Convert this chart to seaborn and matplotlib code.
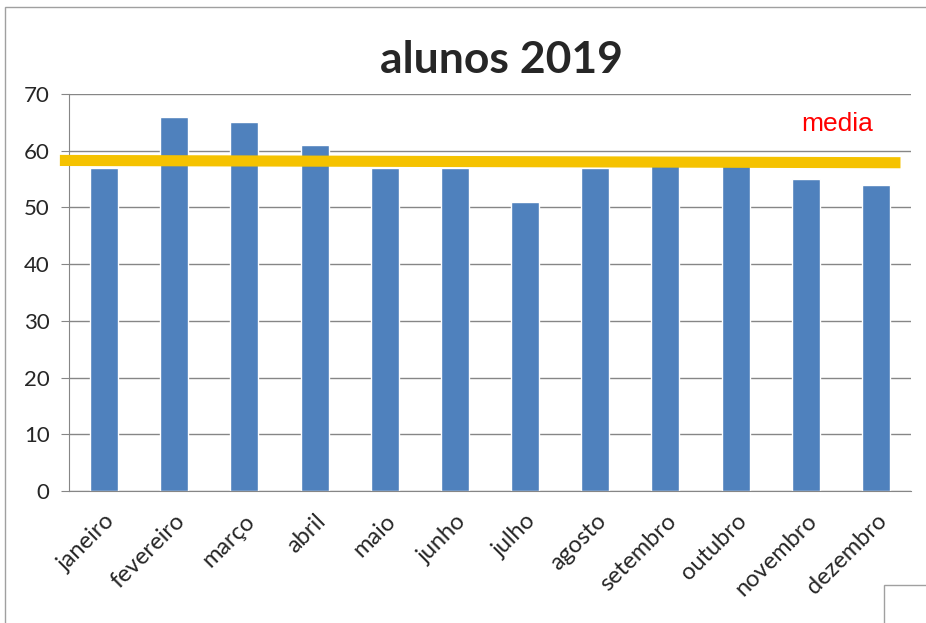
import matplotlib
matplotlib.use("Agg")
import matplotlib.pyplot as plt
import seaborn as sns
import pandas as pd

meses = ["janeiro", "fevereiro", "março", "abril", "maio", "junho",
         "julho", "agosto", "setembro", "outubro", "novembro", "dezembro"]
alunos = [57, 66, 65, 61, 57, 57, 51, 57, 59, 58, 55, 54]
media = sum(alunos) / len(alunos)

df = pd.DataFrame({"mes": meses, "alunos": alunos})

sns.set_style("white")
plt.rcParams["font.family"] = ["Lato", "DejaVu Sans"]

fig = plt.figure(figsize=(9.26, 6.23), dpi=100)
ax = fig.add_axes([69 / 926, 1 - 491 / 623, 842 / 926, 397 / 623])

sns.barplot(data=df, x="mes", y="alunos", color="#4F81BD", width=0.4,
            saturation=1, ax=ax, zorder=2)

# linha da media
ax.plot([-0.63, 11.35], [media + 0.2, media - 0.2], color="#F5C200",
        lw=8, solid_capstyle="butt", clip_on=False, zorder=3)
ax.text(10.45, 64.7, "media", color="red", fontsize=19,
        family="Liberation Sans", ha="center", va="center")

ax.set_ylim(0, 70)
ax.set_xlim(-0.5, 11.5)
ax.set_yticks(range(0, 71, 10))
ax.yaxis.grid(True, color="#868686", lw=1, zorder=0)
ax.set_axisbelow(True)
for s in ["top", "right"]:
    ax.spines[s].set_visible(False)
for s in ["left", "bottom"]:
    ax.spines[s].set_color("#868686")
ax.set_xlabel("")
ax.set_ylabel("")

ax.set_xticks([i - 0.5 for i in range(13)], minor=True)
ax.tick_params(axis="x", which="minor", length=6, color="#868686", width=1)
ax.tick_params(axis="x", which="major", length=0, labelsize=17, pad=14)
ax.tick_params(axis="y", length=6, color="#868686", labelsize=16, pad=8,
               left=True)
ax.set_xticks(range(12))
ax.set_xticklabels(meses, rotation=45, ha="right", rotation_mode="anchor")

fig.text(0.542, 0.903, "alunos 2019", ha="center", va="center",
         fontsize=32, fontweight="bold")

# moldura do grafico
fig.add_artist(plt.Rectangle((5 / 926, -0.1), 1.1, 1 - 7 / 623 + 0.1,
                             transform=fig.transFigure, fill=False,
                             ec="#A0A0A0", lw=1))
fig.add_artist(plt.Rectangle((884 / 926, -0.1), 0.2, 0.1 + 38 / 623,
                             transform=fig.transFigure, fill=False,
                             ec="#A0A0A0", lw=1))

fig.savefig("out.png", dpi=100)
